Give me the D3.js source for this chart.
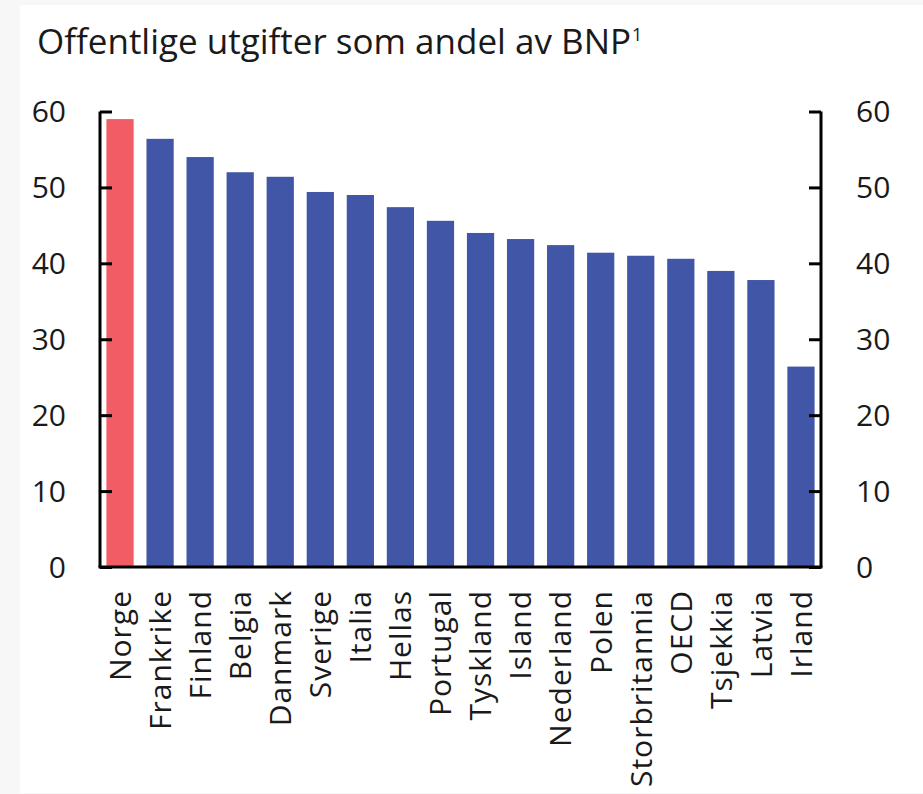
<!DOCTYPE html>
<html>
<head>
<meta charset="utf-8">
<script src="https://cdn.jsdelivr.net/npm/d3@7"></script>
<style>
    body { margin: 0; background: #f7f7f7; }
    #chart { display: block; }
    text { font-family: 'Open Sans', sans-serif; fill: #1a1a1a; }
</style>
</head>
<body>
<svg id="chart"></svg>
<script>
// Chart data
const countries = ['Norge', 'Frankrike', 'Finland', 'Belgia', 'Danmark', 'Sverige', 'Italia', 'Hellas',
    'Portugal', 'Tyskland', 'Island', 'Nederland', 'Polen', 'Storbritannia', 'OECD', 'Tsjekkia', 'Latvia', 'Irland'];
const values = [59.0, 56.4, 54.0, 52.0, 51.4, 49.4, 49.0, 47.4, 45.6, 44.0, 43.2, 42.4, 41.4, 41.0, 40.6, 39.0, 37.8, 26.4];
const yTicks = [0, 10, 20, 30, 40, 50, 60];
const highlight = 'Norge';

class BarChart {

    constructor(_config) {
        this.config = {
            parentElement: _config.parentElement,
            containerWidth: 923,
            containerHeight: 794,
            margin: {top: 111.5, right: 102, bottom: 227, left: 100}
        };
        this.initVis();
    }

    initVis() {
        let vis = this;

        vis.width = vis.config.containerWidth - vis.config.margin.left - vis.config.margin.right;
        vis.height = vis.config.containerHeight - vis.config.margin.top - vis.config.margin.bottom;

        vis.svg = d3.select(vis.config.parentElement)
            .attr('width', vis.config.containerWidth)
            .attr('height', vis.config.containerHeight);

        // white panel on light grey page
        vis.svg.append('rect')
            .attr('x', 20).attr('y', 5)
            .attr('width', vis.config.containerWidth - 20)
            .attr('height', vis.config.containerHeight - 6)
            .attr('fill', '#fff');

        // title with footnote mark
        const title = vis.svg.append('text')
            .attr('x', 37)
            .attr('y', 54)
            .style('font-size', '35px');
        title.append('tspan').text('Offentlige utgifter som andel av BNP');
        title.append('tspan')
            .attr('dx', 1)
            .attr('dy', -13)
            .style('font-size', '18px')
            .text('1');

        vis.chart = vis.svg.append('g')
            .attr('transform', `translate(${vis.config.margin.left},${vis.config.margin.top})`);

        vis.xScale = d3.scaleBand()
            .domain(countries)
            .range([0, vis.width])
            .paddingInner(0.32)
            .paddingOuter(0.16);

        vis.yScale = d3.scaleLinear()
            .domain([0, 60])
            .range([vis.height, 0]);

        vis.renderVis();
    }

    renderVis() {
        let vis = this;
        const data = countries.map((c, i) => ({country: c, value: values[i]}));

        vis.chart.selectAll('.bar')
                .data(data)
            .join('rect')
                .attr('class', 'bar')
                .attr('x', d => vis.xScale(d.country))
                .attr('width', vis.xScale.bandwidth())
                .attr('y', d => vis.yScale(d.value))
                .attr('height', d => vis.height - vis.yScale(d.value))
                .attr('fill', d => d.country === highlight ? '#f25d65' : '#4156a6');

        // ticks point inwards on both sides
        const yLeft = d3.axisRight(vis.yScale).tickValues(yTicks).tickSize(12).tickFormat('');
        const yRight = d3.axisLeft(vis.yScale).tickValues(yTicks).tickSize(12).tickFormat('');

        const gLeft = vis.chart.append('g').call(yLeft);
        const gRight = vis.chart.append('g')
            .attr('transform', `translate(${vis.width},0)`)
            .call(yRight);

        [gLeft, gRight].forEach(g => {
            g.select('.domain').remove();
            g.selectAll('.tick line').attr('stroke', '#000').attr('stroke-width', 3);
        });

        // axis frame lines
        vis.chart.append('line')
            .attr('x1', 0).attr('x2', 0)
            .attr('y1', 0).attr('y2', vis.height)
            .attr('stroke', '#000').attr('stroke-width', 3);
        vis.chart.append('line')
            .attr('x1', vis.width).attr('x2', vis.width)
            .attr('y1', 0).attr('y2', vis.height)
            .attr('stroke', '#000').attr('stroke-width', 3);
        vis.chart.append('line')
            .attr('x1', -1.5).attr('x2', vis.width + 1.5)
            .attr('y1', vis.height).attr('y2', vis.height)
            .attr('stroke', '#000').attr('stroke-width', 3);

        // tick labels on both sides
        vis.chart.selectAll('.y-label-left')
                .data(yTicks)
            .join('text')
                .attr('class', 'y-label-left')
                .attr('x', -34)
                .attr('y', d => vis.yScale(d))
                .attr('dy', '0.36em')
                .attr('text-anchor', 'end')
                .style('font-size', '30px')
                .text(d => d);

        vis.chart.selectAll('.y-label-right')
                .data(yTicks)
            .join('text')
                .attr('class', 'y-label-right')
                .attr('x', vis.width + 35)
                .attr('y', d => vis.yScale(d))
                .attr('dy', '0.36em')
                .attr('text-anchor', 'start')
                .style('font-size', '30px')
                .text(d => d);

        // rotated category labels
        vis.chart.selectAll('.x-label')
                .data(countries)
            .join('text')
                .attr('class', 'x-label')
                .attr('transform', d => `translate(${vis.xScale(d) + vis.xScale.bandwidth() / 2},${vis.height + 23}) rotate(-90)`)
                .attr('dy', '0.36em')
                .attr('text-anchor', 'end')
                .style('font-size', '30px')
                .style('letter-spacing', '1px')
                .text(d => d);
    }
}

new BarChart({parentElement: '#chart'});
</script>
</body>
</html>
